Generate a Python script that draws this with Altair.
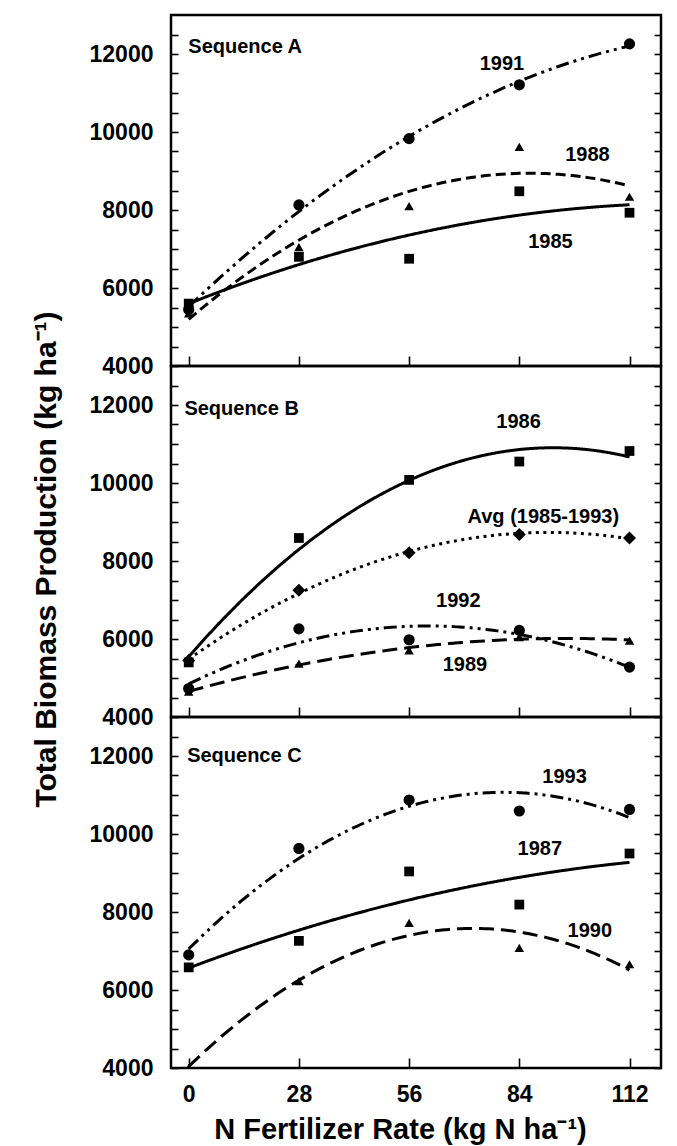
import altair as alt
import pandas as pd

FONT = "Liberation Sans"

rates = [0, 28, 56, 84, 112]

# Sequence A
a_1985 = [5600, 6800, 6750, 8480, 7930]
a_1988 = [5350, 7050, 8100, 9620, 8340]
a_1991 = [5450, 8130, 9830, 11210, 12260]
# Sequence B
b_1986 = [5400, 8590, 10080, 10550, 10820]
b_avg = [5450, 7250, 8210, 8680, 8590]
b_1992 = [4730, 6260, 5980, 6220, 5280]
b_1989 = [4650, 5370, 5710, 6050, 5960]
# Sequence C
c_1993 = [6900, 9630, 10870, 10590, 10630]
c_1987 = [6580, 7260, 9040, 8190, 9500]
c_1990 = [4000, 6230, 7720, 7080, 6660]

# annotation labels (data coordinates)
a_lab_text = ["1991", "1988", "1985"]
a_lab_x = [79.6, 101.3, 91.9]
a_lab_y = [11750, 9410, 7190]
b_lab_text = ["1986", "Avg (1985-1993)", "1992", "1989"]
b_lab_x = [83.8, 90.1, 68.5, 70.2]
b_lab_y = [11570, 9130, 6980, 5330]
c_lab_text = ["1993", "1987", "1990"]
c_lab_x = [95.5, 89.2, 101.9]
c_lab_y = [11470, 9610, 7510]

seq_names = ["Sequence A", "Sequence B", "Sequence C"]
seq_x = [-0.1, -1.1, -0.4]
seq_y = [12180, 11900, 12010]

y_ticks = list(range(4000, 12501, 500))

# styles
SOLID = [1, 0]
DASH_SHORT = [10, 5]
DASH_LONG = [15, 7]
DASH_DOT_DOT = [13, 5, 3, 5, 3, 5]
DOTTED = [3, 4.5]

style = {
    "1985": ("square", 95, SOLID),
    "1986": ("square", 95, SOLID),
    "1987": ("square", 95, SOLID),
    "1988": ("triangle-up", 90, DASH_SHORT),
    "1989": ("triangle-up", 90, DASH_LONG),
    "1990": ("triangle-up", 90, DASH_LONG),
    "1991": ("circle", 125, DASH_DOT_DOT),
    "1992": ("circle", 125, DASH_DOT_DOT),
    "1993": ("circle", 125, DASH_DOT_DOT),
    "Avg": ("diamond", 170, DOTTED),
}
all_names = list(style.keys())
all_dashes = [style[n][2] for n in all_names]

W, H = 490, 351


def make_df(series):
    rows = []
    for name, vals in series.items():
        shp, sz, _ = style[name]
        for r, v in zip(rates, vals):
            rows.append({"rate": r, "value": v, "series": name, "shape": shp, "msize": sz})
    return pd.DataFrame(rows)


def panel(series, lab_text, lab_x, lab_y, seq_i, bottom, ytitle):
    df = make_df(series)
    xscale = alt.Scale(domain=[-4.5, 120], nice=False, zero=False)
    yscale = alt.Scale(domain=[4000, 13000], nice=False, zero=False)

    xkw = dict(
        orient="bottom", values=rates, tickSize=10, offset=-10, domain=False, grid=False,
        labels=bottom, tickColor="black", tickWidth=1.6, zindex=1,
        labelFont=FONT, labelFontSize=23, labelFontWeight="bold", labelColor="black",
        labelPadding=15, labelFlush=False,
    )
    if bottom:
        xkw.update(title="N Fertilizer Rate (kg N ha⁻¹)", titleFont=FONT, titleFontSize=29,
                   titleFontWeight="bold", titleColor="black", titlePadding=9, titleX=229)
    else:
        xkw.update(title=None)
    xaxis = alt.Axis(**xkw)

    ykw = dict(
        values=y_ticks, tickSize=7, offset=-7, domain=False, grid=False,
        tickColor="black", tickWidth=1.6,
    )
    if ytitle:
        ytitle_kw = dict(title="Total Biomass Production (kg ha⁻¹)", titleFont=FONT,
                         titleFontSize=30, titleFontWeight="bold", titleColor="black",
                         titlePadding=28, titleY=193)
    else:
        ytitle_kw = dict(title=None)
    yaxis_left = alt.Axis(
        orient="left", labelExpr="datum.value % 2000 === 0 ? format(datum.value, 'd') : ''",
        labelFont=FONT, labelFontSize=23, labelFontWeight="bold", labelColor="black",
        labelPadding=18, labelFlush=False, labelOverlap=False, **ykw, **ytitle_kw,
    )
    yaxis_right = alt.Axis(orient="right", labels=False, title=None, **ykw)

    lines = alt.Chart(df).transform_regression(
        "rate", "value", groupby=["series"], method="poly", order=2
    ).mark_line(color="black", strokeWidth=3, clip=True).encode(
        x=alt.X("rate:Q", scale=xscale, axis=xaxis),
        y=alt.Y("value:Q", scale=yscale, axis=yaxis_right),
        strokeDash=alt.StrokeDash("series:N", scale=alt.Scale(domain=all_names, range=all_dashes), legend=None),
        detail="series:N",
    )
    pts = alt.Chart(df).mark_point(filled=True, color="black", opacity=1, clip=True).encode(
        x=alt.X("rate:Q", scale=xscale, axis=None),
        y=alt.Y("value:Q", scale=yscale, axis=yaxis_left),
        shape=alt.Shape("shape:N", scale=None),
        size=alt.Size("msize:Q", scale=None),
    )
    ldf = pd.DataFrame({"x": lab_x, "y": lab_y, "t": lab_text})
    labs = alt.Chart(ldf).mark_text(font=FONT, fontSize=20, fontWeight="bold", color="black").encode(
        x=alt.X("x:Q", scale=xscale, axis=None),
        y=alt.Y("y:Q", scale=yscale, axis=None),
        text="t:N",
    )
    sdf = pd.DataFrame({"x": [seq_x[seq_i]], "y": [seq_y[seq_i]], "t": [seq_names[seq_i]]})
    seq = alt.Chart(sdf).mark_text(font=FONT, fontSize=20, fontWeight="bold", color="black", align="left").encode(
        x=alt.X("x:Q", scale=xscale, axis=None),
        y=alt.Y("y:Q", scale=yscale, axis=None),
        text="t:N",
    )
    return alt.layer(lines, pts, labs, seq).resolve_axis(x="independent").properties(width=W, height=H)


pa = panel({"1985": a_1985, "1988": a_1988, "1991": a_1991},
           a_lab_text, a_lab_x, a_lab_y, 0, False, False)
pb = panel({"1986": b_1986, "Avg": b_avg, "1992": b_1992, "1989": b_1989},
           b_lab_text, b_lab_x, b_lab_y, 1, False, True)
pc = panel({"1993": c_1993, "1987": c_1987, "1990": c_1990},
           c_lab_text, c_lab_x, c_lab_y, 2, True, False)

chart = alt.vconcat(pa, pb, pc, spacing=0, bounds="flush").properties(
    padding={"left": 21, "top": 5, "right": 5, "bottom": 80},
    background="white",
).configure_view(stroke="black", strokeWidth=2.5)

chart.save("out.html", embed_options={"renderer": "svg", "actions": False})
